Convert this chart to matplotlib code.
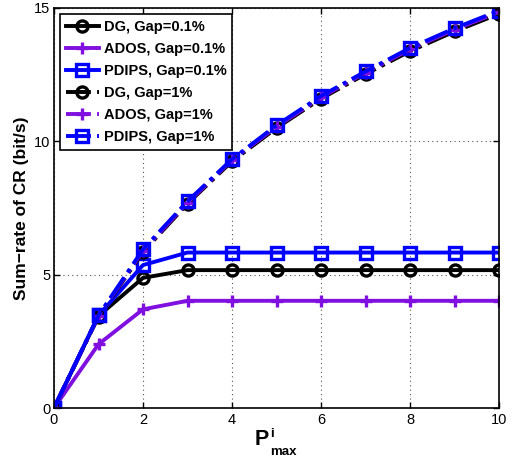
import numpy as np
import matplotlib
matplotlib.use('Agg')
import matplotlib.pyplot as plt

plt.rcParams['font.family'] = ['Liberation Sans', 'DejaVu Sans']

## transmit power budget
p_max = [0, 1, 2, 3, 4, 5, 6, 7, 8, 9, 10]

## sum-rate, gap = 0.1%
dg_01 = [0, 3.45, 4.88, 5.17, 5.17, 5.17, 5.17, 5.17, 5.17, 5.17, 5.17]
ados_01 = [0, 2.39, 3.70, 4.02, 4.02, 4.02, 4.02, 4.02, 4.02, 4.02, 4.02]
pdips_01 = [0, 3.47, 5.36, 5.83, 5.83, 5.83, 5.83, 5.83, 5.83, 5.83, 5.83]

## sum-rate, gap = 1%
dg_1 = [0, 3.43, 5.85, 7.66, 9.25, 10.50, 11.60, 12.52, 13.38, 14.12, 14.78]
ados_1 = [0, 3.45, 5.90, 7.70, 9.30, 10.55, 11.65, 12.58, 13.45, 14.19, 14.85]
pdips_1 = [0, 3.47, 5.95, 7.75, 9.33, 10.60, 11.70, 12.62, 13.50, 14.24, 14.90]

purple = '#8010E0'
blue = '#0000FF'

fig = plt.figure(figsize=(5.13, 4.59), dpi=100)
ax = fig.add_axes([54/513, 1 - 408/459, 445/513, 400/459])

kw = dict(linewidth=2.8, markersize=8, markeredgewidth=2.4)
kw_plus = dict(linewidth=2.8, markersize=8.5, markeredgewidth=2.4)
ax.plot(p_max, dg_01, '-', color='k', marker='o', markerfacecolor='none', label='DG, Gap=0.1%', **kw)
ax.plot(p_max, ados_01, '-', color=purple, marker='+', label='ADOS, Gap=0.1%', **kw_plus)
ax.plot(p_max, pdips_01, '-', color=blue, marker='s', markerfacecolor='none', label='PDIPS, Gap=0.1%', **kw)
ax.plot(p_max, dg_1, '-.', color='k', marker='o', markerfacecolor='none', label='DG, Gap=1%', **kw)
ax.plot(p_max, ados_1, '-.', color=purple, marker='+', label='ADOS, Gap=1%', **kw_plus)
ax.plot(p_max, pdips_1, '-.', color=blue, marker='s', markerfacecolor='none', label='PDIPS, Gap=1%', **kw)

ax.set_xlim(0, 10)
ax.set_ylim(0, 15)
ax.set_xticks([0, 2, 4, 6, 8, 10])
ax.set_yticks([0, 5, 10, 15])
ax.tick_params(direction='in', top=True, right=True, labelsize=10.5, length=4, width=1)
ax.tick_params(axis='y', pad=2.5)
for s in ax.spines.values():
    s.set_linewidth(1.2)
ax.grid(True, linestyle=(0, (1, 3)), color='#555555', linewidth=0.8)

ax.set_ylabel('Sum\u2212rate of CR (bit/s)', fontsize=12.5, fontweight='bold', labelpad=4)

# x label: P with superscript i and subscript max stacked
ax.text(0.4517, -0.0925, 'P', transform=ax.transAxes, fontsize=15.5,
        fontweight='bold', ha='left', va='baseline')
ax.text(0.4865, -0.0725, 'i', transform=ax.transAxes, fontsize=9.5,
        fontweight='bold', ha='left', va='baseline')
ax.text(0.4865, -0.1175, 'max', transform=ax.transAxes, fontsize=9.5,
        fontweight='bold', ha='left', va='baseline')

leg = ax.legend(loc='upper left', prop={'weight': 'bold', 'size': 10.5},
                fancybox=False, edgecolor='k', framealpha=1, handlelength=2.3,
                borderaxespad=0.4, labelspacing=0.55, handletextpad=0.3,
                borderpad=0.4)
leg.get_frame().set_linewidth(1.2)

plt.savefig('out.png', dpi=100)
